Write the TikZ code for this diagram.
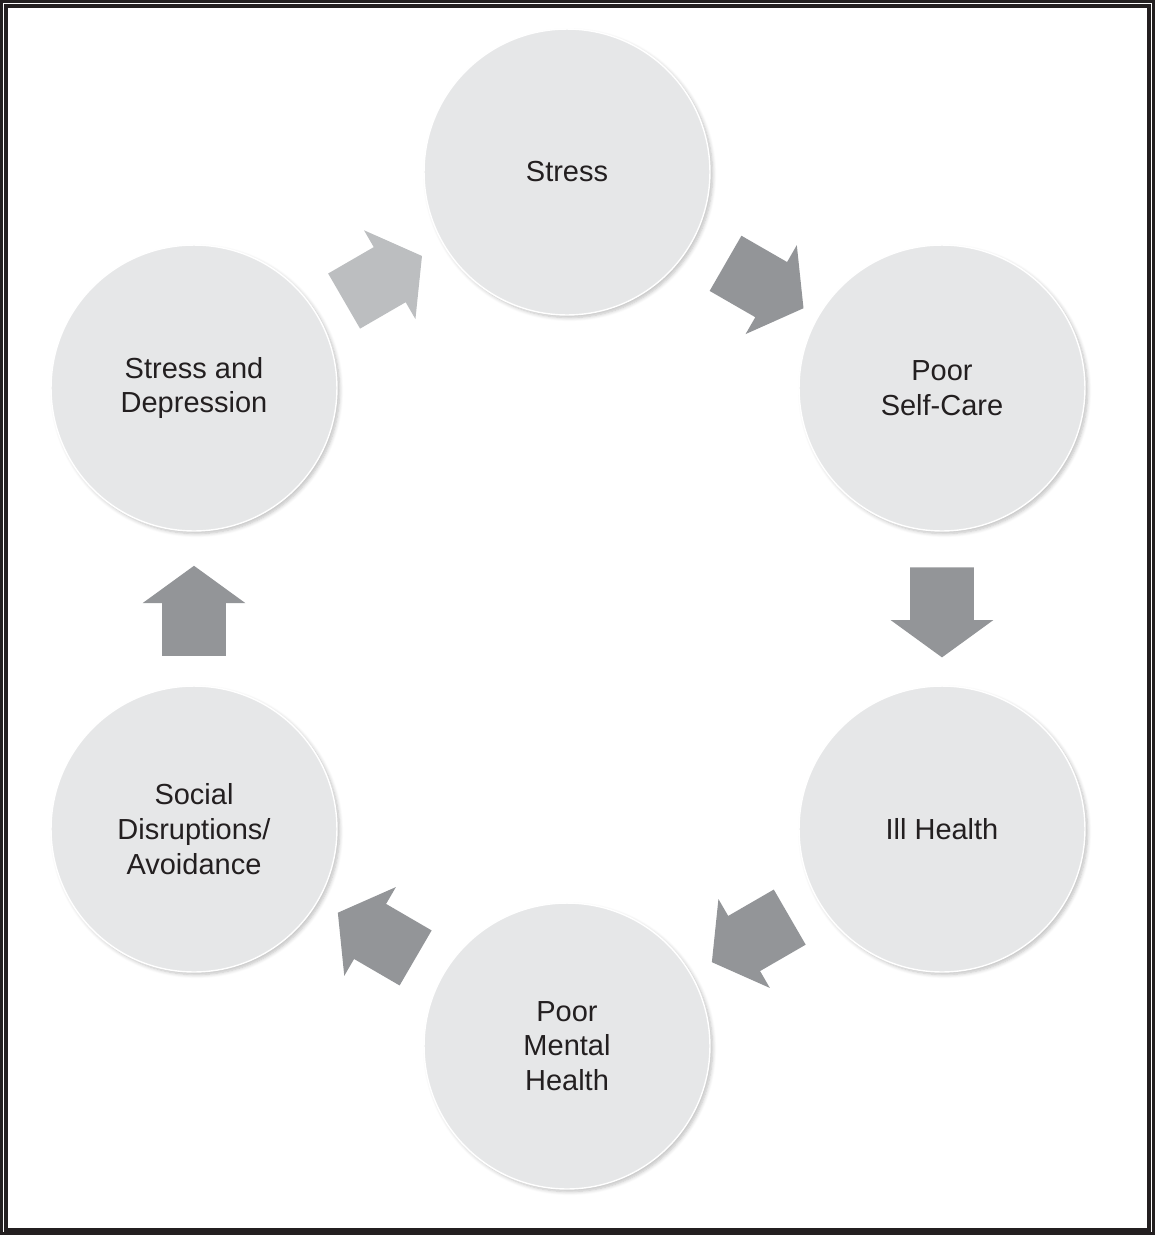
\documentclass[tikz,border=0pt]{standalone}
\usepackage{fontspec}
\setmainfont{Liberation Sans}
\usepackage{xcolor}
\usetikzlibrary{shapes.arrows, shadows.blur}
\definecolor{cyclefill}{HTML}{E6E7E8}
\definecolor{arrowdark}{HTML}{939598}
\definecolor{arrowlight}{HTML}{BCBEC0}
\definecolor{ink}{HTML}{231F20}

\begin{document}
\begin{tikzpicture}[x=0.02cm, y=-0.02cm,
  stage/.style={circle, fill=cyclefill, draw=white, line width=0.8pt, minimum size=5.72cm, inner sep=0pt,
    align=center, text=ink, font=\fontsize{16.5}{19.8}\selectfont,
    blur shadow={shadow xshift=1.5pt, shadow yshift=-1.5pt, shadow blur steps=6, shadow opacity=25}},
  flow/.style={single arrow, fill=arrowdark, minimum height=1.8cm, minimum width=2.04cm,
    inner xsep=0pt, inner ysep=0.63cm, single arrow head extend=0.39cm, single arrow tip angle=108,
    sloped, allow upside down},
]
\useasboundingbox (0,0) rectangle (1155,1235);

% frame
\draw[ink, line width=0.06cm] (1.5,1.5) rectangle (1153.5,1233.5);
\draw[ink, line width=0.07cm] (5.8,5.8) rectangle (1149,1230);

% stages of the cycle
\node[stage] (stress) at (567,172) {Stress};
\node[stage] (selfcare) at (942,388) {Poor\\Self-Care};
\node[stage] (illhealth) at (942,829) {Ill Health};
\node[stage] (mental) at (567,1046) {Poor\\Mental\\Health};
\node[stage] (social) at (194,829) {Social\\Disruptions/\\Avoidance};
\node[stage] (depress) at (194,388) {Stress and\\Depression};

% block arrows between stages
\path (depress) -- node[flow, fill=arrowlight, pos=0.44] (f1) {} (stress);
\path (stress) -- node[flow, pos=0.5] (f2) {} (selfcare);
\path (selfcare) -- node[flow, pos=0.45] (f3) {} (illhealth);
\path (illhealth) -- node[flow, pos=0.45] (f4) {} (mental);
\path (mental) -- node[flow, pos=0.45] (f5) {} (social);
\path (social) -- node[flow, pos=0.41] (f6) {} (depress);

\end{tikzpicture}
\end{document}
